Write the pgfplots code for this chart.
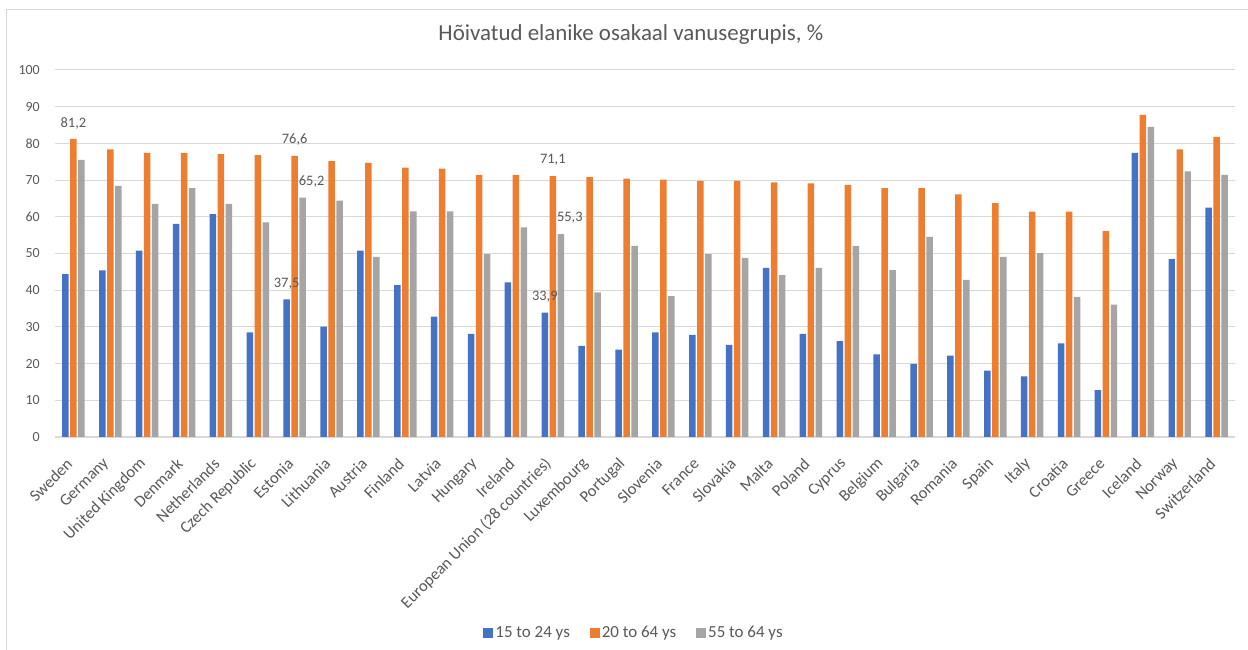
\documentclass[border=0pt]{standalone}
\usepackage{pgfplots}
\pgfplotsset{compat=1.18}
\usepackage{pgfplotstable}
\usepackage{fontspec}
\setmainfont{Carlito}

\definecolor{c1}{HTML}{4472C4}
\definecolor{c2}{HTML}{ED7D31}
\definecolor{c3}{HTML}{A5A5A5}
\definecolor{txt}{HTML}{595959}
\definecolor{gridc}{HTML}{D9D9D9}

\pgfplotsset{sqlegend/.style={legend image code/.code={\path[##1, draw=none] (0bp,-5bp) rectangle (10bp,5bp);}}}

% x  15-24  20-64  55-64
\pgfplotstableread{
x  a     b     c
0  44.4  81.2  75.5
1  45.4  78.4  68.4
2  50.8  77.4  63.5
3  58.1  77.4  67.8
4  60.7  77.1  63.5
5  28.5  76.8  58.5
6  37.5  76.6  65.2
7  30.1  75.2  64.4
8  50.8  74.7  49.1
9  41.4  73.4  61.5
10 32.8  73.1  61.5
11 28.1  71.4  49.8
12 42.1  71.4  57.1
13 33.9  71.1  55.3
14 24.8  70.8  39.4
15 23.8  70.4  52.1
16 28.5  70.1  38.4
17 27.8  69.8  49.8
18 25.1  69.8  48.8
19 46.1  69.4  44.1
20 28.1  69.1  46.1
21 26.1  68.7  52.1
22 22.5  67.8  45.5
23 19.9  67.8  54.5
24 22.2  66.1  42.8
25 18.1  63.7  49.1
26 16.5  61.4  50.1
27 25.5  61.4  38.2
28 12.8  56.1  36.1
29 77.4  87.8  84.5
30 48.5  78.4  72.4
31 62.5  81.8  71.4
}\data

\begin{document}
\begin{tikzpicture}
\useasboundingbox (0,0) rectangle (1248bp,650bp);
\fill[white] (0,0) rectangle (1248bp,650bp);
\draw[gridc, line width=1bp] (6.5bp,0) -- (6.5bp,640bp) -- (1248bp,640bp);
\begin{axis}[
    at={(55bp,213bp)}, anchor=south west,
    scale only axis,
    width=1180bp, height=367bp,
    ybar, bar width=6.4bp,
    xmin=-0.5, xmax=31.5,
    ymin=0, ymax=100,
    ytick={0,10,...,100},
    xtick={0,...,31},
    xticklabels={Sweden,Germany,United Kingdom,Denmark,Netherlands,Czech Republic,Estonia,Lithuania,Austria,Finland,Latvia,Hungary,Ireland,European Union (28 countries),Luxembourg,Portugal,Slovenia,France,Slovakia,Malta,Poland,Cyprus,Belgium,Bulgaria,Romania,Spain,Italy,Croatia,Greece,Iceland,Norway,Switzerland},
    axis x line*=bottom, axis y line*=left,
    x axis line style={draw=gridc, line width=1.2bp},
    y axis line style={draw=none},
    tick style={draw=none},
    ymajorgrids, grid style={gridc, line width=1bp},
    /pgf/number format/assume math mode=true,
    yticklabel style={font=\fontsize{14}{16}\selectfont, text=txt, inner sep=0pt, xshift=-15bp},
    xticklabel style={font=\fontsize{16.5}{18}\selectfont, text=txt, xshift=-4bp, yshift=-20bp, rotate=45, anchor=east, inner sep=0pt},
    nodes near coords style={font=\fontsize{14.5}{16}\selectfont, text=txt, anchor=center, yshift=16bp,
        /pgf/number format/use comma, /pgf/number format/fixed,
        /pgf/number format/fixed zerofill, /pgf/number format/precision=1},
    title={Hõivatud elanike osakaal vanusegrupis, \%},
    title style={font=\fontsize{23}{26}\selectfont, text=txt, at={(0.488,1.0817)}, anchor=center},
    legend style={at={(0.4907,-0.534)}, anchor=center, draw=none, fill=none,
        legend columns=3, font=\fontsize{17}{20}\selectfont, text=txt,
        /tikz/every even column/.append style={column sep=18bp}},
]
\addplot[fill=c1, draw=none, bar shift=-8bp, sqlegend] table[x=x, y=a] {\data};
\addplot[fill=c2, draw=none, bar shift=0bp, sqlegend] table[x=x, y=b] {\data};
\addplot[fill=c3, draw=none, bar shift=8bp, sqlegend] table[x=x, y=c] {\data};
\legend{15 to 24 ys, 20 to 64 ys, 55 to 64 ys}
% value labels
\addplot[draw=none, fill=none, bar shift=-8bp, forget plot, nodes near coords] coordinates {(6,37.5) (13,33.9)};
\addplot[draw=none, fill=none, bar shift=0bp, forget plot, nodes near coords] coordinates {(0,81.2) (6,76.6) (13,71.1)};
\addplot[draw=none, fill=none, bar shift=8bp, forget plot, nodes near coords,
    every node near coord/.append style={xshift=9bp}] coordinates {(6,65.2) (13,55.3)};
\end{axis}
\end{tikzpicture}
\end{document}
